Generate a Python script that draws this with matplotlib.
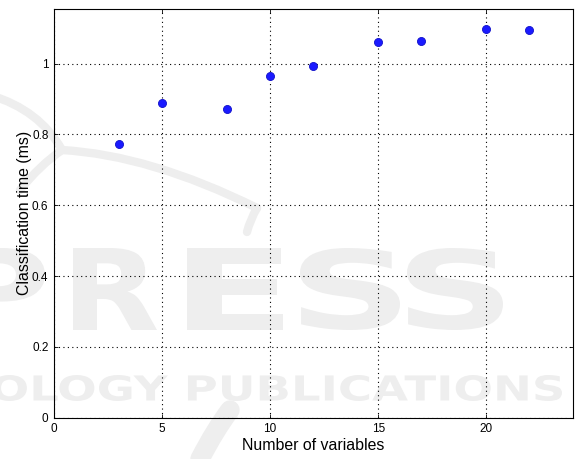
import matplotlib
matplotlib.use("Agg")
import matplotlib.pyplot as plt
from matplotlib.textpath import TextPath
from matplotlib.patches import PathPatch
from matplotlib.font_manager import FontProperties
from matplotlib.transforms import Affine2D, IdentityTransform
from matplotlib.path import Path

# Measured classification time per number of input variables
num_variables = [3, 5, 8, 10, 12, 15, 17, 20, 22]
class_time_ms = [0.773, 0.889, 0.873, 0.965, 0.993, 1.061, 1.065, 1.099, 1.095]

x_ticks = [0, 5, 10, 15, 20]
y_ticks = [0, 0.2, 0.4, 0.6, 0.8, 1.0]
y_tick_labels = ["0", "0.2", "0.4", "0.6", "0.8", "1"]

W, H = 579, 459
plt.rcParams["font.family"] = ["Liberation Sans", "DejaVu Sans"]

fig = plt.figure(figsize=(W / 100, H / 100), dpi=100)

# Publisher watermark in pale grey behind the plot
wm_color = "#eeeeee"
bold = FontProperties(family="DejaVu Sans", weight="bold")


def stamp(text, x0, x1, ytop, ybot):
    """Draw text filling the pixel box [x0,x1] x [ytop,ybot] (origin top-left)."""
    tp = TextPath((0, 0), text, size=100, prop=bold)
    ext = tp.get_extents()
    sx = (x1 - x0) / ext.width
    sy = (ybot - ytop) / ext.height
    tr = (Affine2D().translate(-ext.x0, -ext.y0).scale(sx, sy)
          .translate(x0, H - ybot))
    patch = PathPatch(tr.transform_path(tp), facecolor=wm_color,
                      edgecolor="none", zorder=0)
    patch.set_transform(IdentityTransform())
    fig.patches.append(patch)


stamp("P", -45, 45, 248, 330)
stamp("R", 73, 157, 248, 330)
stamp("E", 187, 283, 248, 330)
stamp("S", 300, 400, 248, 330)
stamp("S", 407, 503, 248, 330)
stamp("OLOGY PUBLICATIONS", -8, 562, 375, 401)


# Swoosh strokes of the logo
def stroke(pts, lw):
    verts = [(x, H - y) for x, y in pts]
    codes = [Path.MOVETO] + [Path.CURVE3] * (len(verts) - 1)
    p = PathPatch(Path(verts, codes), facecolor="none", edgecolor=wm_color,
                  lw=lw, capstyle="round", zorder=0)
    p.set_transform(IdentityTransform())
    fig.patches.append(p)


stroke([(-10, 95), (40, 110), (62, 150)], 6)
stroke([(62, 150), (150, 155), (257, 208)], 6)
stroke([(257, 208), (250, 220), (247, 232)], 6)
stroke([(20, 190), (40, 165), (62, 150)], 6)
stroke([(200, 459), (215, 430), (230, 410)], 14)

ax = fig.add_axes([54 / W, 1 - 417.7 / H, (572.7 - 54) / W, (417.7 - 8.7) / H])
ax.set_zorder(2)
ax.patch.set_alpha(0)

ax.plot(num_variables, class_time_ms, linestyle="none", marker="o",
        markersize=5.8, markerfacecolor="#1a1aff", markeredgecolor="#1010c8",
        markeredgewidth=0.6, zorder=3)

ax.set_xlim(0, 24)
ax.set_ylim(0, 1.155)
ax.set_xticks(x_ticks)
ax.set_yticks(y_ticks)
ax.set_yticklabels(y_tick_labels)

ax.grid(True, linestyle=(0, (1, 3)), color="black", linewidth=0.8)
ax.tick_params(direction="in", top=True, right=True, labelsize=8.5,
               length=3, width=0.6, pad=4)
for s in ax.spines.values():
    s.set_linewidth(0.8)

ax.set_xlabel("Number of variables", fontsize=11.4, labelpad=2)
ax.set_ylabel("Classification time (ms)", fontsize=11.4, labelpad=0)

fig.savefig("out.png", dpi=100)
